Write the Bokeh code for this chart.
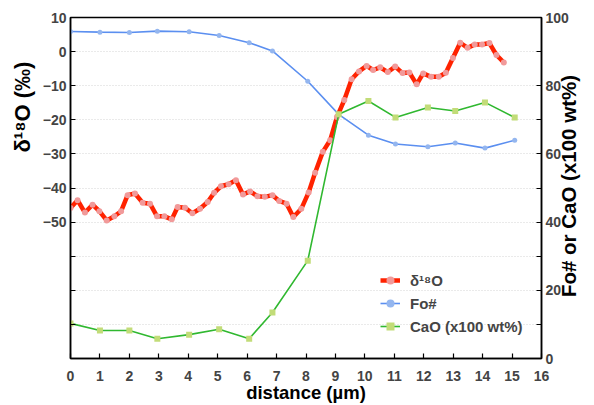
import numpy as np
from bokeh.plotting import figure
from bokeh.models import Range1d, LinearAxis, FixedTicker, Legend, LegendItem, Title
from bokeh.embed import file_html
from bokeh.resources import INLINE

# --- data ---
d18o_dist = [0.0, 0.24, 0.49, 0.75, 0.98, 1.23, 1.49, 1.72, 1.94, 2.19, 2.45, 2.70, 2.94,
             3.19, 3.44, 3.64, 3.89, 4.14, 4.40, 4.66, 4.88, 5.11, 5.37, 5.62, 5.86, 6.10,
             6.35, 6.60, 6.86, 7.09, 7.34, 7.57, 7.84, 8.09, 8.31, 8.57, 8.82, 9.05, 9.30,
             9.55, 9.80, 10.06, 10.28, 10.52, 10.78, 11.03, 11.28, 11.51, 11.76, 11.98,
             12.25, 12.51, 12.75, 12.99, 13.24, 13.49, 13.73, 13.98, 14.23, 14.47, 14.72]
d18o_vals = [-45.9, -43.6, -47.2, -44.9, -46.8, -49.5, -48.3, -46.8, -42.1, -41.6,
             -44.3, -44.6, -48.3, -48.3, -49.2, -45.6, -45.8, -47.4, -46.1, -44.1,
             -41.4, -39.5, -38.9, -37.7, -41.9, -41.0, -42.4, -42.6, -42.1, -43.8,
             -44.6, -48.5, -46.1, -41.3, -35.5, -29.4, -26.0, -19.2, -14.2, -8.1,
             -5.8, -4.2, -5.4, -4.6, -6.0, -4.4, -6.3, -6.1, -9.6, -6.4,
             -7.4, -7.4, -6.2, -1.9, 2.6, 1.1, 2.1, 2.1, 2.5, -1.0, -3.2]

probe_dist = [0.0, 1.0, 2.0, 2.95, 4.03, 5.05, 6.07, 6.86, 8.06, 9.11, 10.12, 11.04,
              12.14, 13.07, 14.08, 15.09]
fo_vals = [95.9, 95.7, 95.6, 96.0, 95.8, 94.7, 92.6, 90.2, 81.3, 71.6, 65.5, 62.9,
           62.1, 63.2, 61.7, 64.0]
cao_vals = [10.3, 8.2, 8.2, 5.8, 7.0, 8.6, 5.8, 13.5, 28.7, 71.6, 75.5, 70.7,
            73.6, 72.6, 75.1, 70.7]

x_ticks = list(range(0, 17))
left_ticks = list(range(-90, 11, 10))
left_labels = {t: "" for t in range(-90, -50, 10)}
right_ticks = list(range(0, 101, 10))
right_labels = {t: "" for t in range(10, 100, 20)}

x_title = "distance (µm)"
left_title_text = "δ¹⁸O (‰)"
right_title_text = "Fo# or CaO (x100 wt%)"

FONT = "Liberation Sans"

p = figure(width=594, height=405, x_range=Range1d(0, 16), y_range=Range1d(-90, 10),
           output_backend="svg", toolbar_location=None,
           min_border_left=70, min_border_right=51, min_border_top=17, min_border_bottom=47)
p.extra_y_ranges = {"right": Range1d(0, 100)}

p.outline_line_color = "black"
p.outline_line_width = 1.5
p.xgrid.visible = False
p.ygrid.ticker = FixedTicker(ticks=left_ticks)
p.ygrid.grid_line_color = "#d4d4d4"
p.ygrid.grid_line_dash = "1 2"
p.ygrid.grid_line_width = 1

def style_axis(ax, standoff):
    ax.axis_line_color = "black"
    ax.axis_line_width = 1.5
    ax.major_tick_in = 5
    ax.major_tick_out = 0
    ax.major_tick_line_width = 1.2
    ax.minor_tick_line_color = None
    ax.major_label_text_font = FONT
    ax.major_label_text_font_style = "bold"
    ax.major_label_text_font_size = "14px"
    ax.major_label_standoff = standoff
    ax.axis_label_text_font = FONT
    ax.axis_label_text_font_style = "bold"
    ax.axis_label_text_color = "black"

p.xaxis.ticker = FixedTicker(ticks=x_ticks)
style_axis(p.xaxis[0], 12)
p.xaxis.axis_label = x_title
p.xaxis.axis_label_text_font_size = "18.5px"
p.xaxis.axis_label_standoff = -2

p.yaxis.ticker = FixedTicker(ticks=left_ticks)
p.yaxis.major_label_overrides = left_labels
style_axis(p.yaxis[0], 4)

right = LinearAxis(y_range_name="right", ticker=FixedTicker(ticks=right_ticks),
                   major_label_overrides=right_labels)
style_axis(right, 4)
p.add_layout(right, "right")

# right-hand title, reading upwards, drawn as the single label of a bare axis
title_axis = LinearAxis(y_range_name="right", ticker=FixedTicker(ticks=[18]),
                        major_label_overrides={18: right_title_text})
title_axis.axis_line_color = None
title_axis.major_tick_line_color = None
title_axis.major_tick_in = 0
title_axis.major_tick_out = 0
title_axis.minor_tick_line_color = None
title_axis.minor_tick_in = 0
title_axis.minor_tick_out = 0
title_axis.major_label_orientation = np.pi / 2
title_axis.major_label_standoff = -3
title_axis.major_label_text_font = FONT
title_axis.major_label_text_font_style = "bold"
title_axis.major_label_text_font_size = "20.5px"
title_axis.major_label_text_color = "black"
p.add_layout(title_axis, "right")

left_title = Title(text=left_title_text, align="left", offset=206, text_font=FONT,
                   text_font_style="bold", text_font_size="22px", text_color="black",
                   standoff=10)
p.add_layout(left_title, "left")

r_line = p.line(d18o_dist, d18o_vals, line_color="#ff2200", line_width=4.5)
r_pts = p.scatter(d18o_dist, d18o_vals, marker="circle", size=6,
                  fill_color="#f19a9a", line_color=None)
b_line = p.line(probe_dist, fo_vals, line_color="#5b8ff0", line_width=1.6, y_range_name="right")
b_pts = p.scatter(probe_dist, fo_vals, marker="circle", size=5, fill_color="#94b6ef",
                  line_color=None, y_range_name="right")
g_line = p.line(probe_dist, cao_vals, line_color="#30b830", line_width=1.6, y_range_name="right")
g_pts = p.scatter(probe_dist, cao_vals, marker="square", size=6, fill_color="#c2dc78",
                  line_color=None, y_range_name="right")

legend = Legend(items=[LegendItem(label="δ¹⁸O", renderers=[r_line, r_pts]),
                       LegendItem(label="Fo#", renderers=[b_line, b_pts]),
                       LegendItem(label="CaO (x100 wt%)", renderers=[g_line, g_pts])],
                location=(310, 22))
legend.label_text_font = FONT
legend.label_text_font_style = "bold"
legend.label_text_font_size = "15px"
legend.background_fill_alpha = 0
legend.border_line_alpha = 0
legend.glyph_width = 20
legend.glyph_height = 20
legend.label_height = 20
legend.label_standoff = 10
legend.padding = 0
legend.margin = 0
legend.spacing = 3
p.add_layout(legend)

open("out.html", "w").write(file_html(p, INLINE))
